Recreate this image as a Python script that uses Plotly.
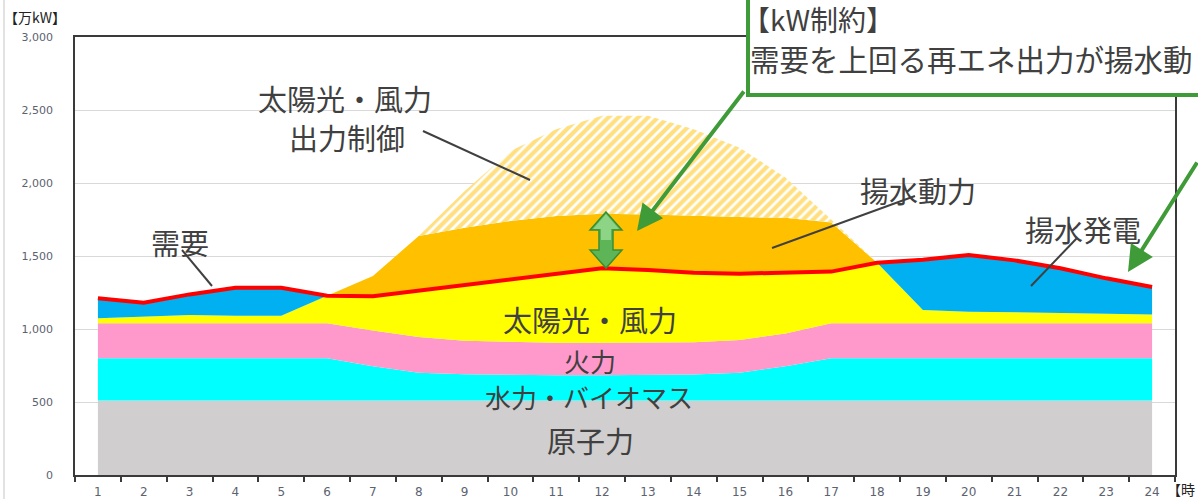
import plotly.graph_objects as go

# ---------------- data (万kW) ----------------
hours = list(range(1, 25))
hour_labels = [str(h) for h in hours]

nuclear = [510, 510, 510, 510, 510, 510, 510, 510, 510, 510, 510, 510,
           510, 510, 510, 510, 510, 510, 510, 510, 510, 510, 510, 510]
hydro_bio = [290, 290, 290, 290, 290, 290, 235, 190, 180, 175, 173, 173,
             175, 178, 190, 235, 290, 290, 290, 290, 290, 290, 290, 290]
thermal = [240, 240, 240, 240, 240, 240, 245, 245, 230, 225, 222, 222,
           220, 222, 225, 225, 240, 240, 240, 240, 240, 240, 240, 240]
solar_wind = [33, 44, 56, 51, 51, 188, 234, 318, 379, 430, 476, 511,
              499, 476, 454, 416, 353, 414, 90, 79, 74, 70, 65, 60]
pumped_gen = [137, 96, 141, 192, 192, 0, 0, 0, 0, 0, 0, 0,
              0, 0, 0, 0, 0, 0, 345, 388, 356, 306, 242, 188]
pumping = [0, 0, 0, 0, 0, 0, 139, 374, 395, 400, 393, 374,
           381, 388, 388, 376, 337, 0, 0, 0, 0, 0, 0, 0]
curtailment = [0, 0, 0, 0, 0, 0, 0, 0, 250, 480, 595, 670,
               675, 595, 475, 275, 20, 0, 0, 0, 0, 0, 0, 0]
demand = [1210, 1180, 1237, 1283, 1283, 1228, 1224, 1263, 1299, 1340, 1381, 1416,
          1404, 1386, 1379, 1386, 1393, 1454, 1475, 1507, 1470, 1416, 1347, 1288]

# ---------------- figure ----------------
W, H = 1198, 499
L, R, T, B = 75, 23, 37, 24
PW, PH = W - L - R, H - T - B


def px(x):
    return (x - L) / PW


def py(y):
    return (H - B - y) / PH


JP = "Noto Sans CJK JP"
TXT = "#404040"
GREEN = "#3E9B37"

fig = go.Figure()

layers = [
    ("原子力", nuclear, "#D0CECE"),
    ("水力・バイオマス", hydro_bio, "#00FFFF"),
    ("火力", thermal, "#FF99CC"),
    ("太陽光・風力", solar_wind, "#FFFF00"),
    ("揚水発電", pumped_gen, "#00B0F0"),
    ("揚水動力", pumping, "#FFC000"),
]
for name, vals, col in layers:
    fig.add_trace(go.Scatter(
        x=hours, y=vals, name=name, stackgroup="s", mode="lines",
        line=dict(width=0, color=col), fillcolor=col, hoverinfo="skip"))

fig.add_trace(go.Scatter(
    x=hours, y=curtailment, name="出力制御", stackgroup="s", mode="lines",
    line=dict(width=0, color="#FFC000"), fillcolor="white",
    fillpattern=dict(shape="/", fgcolor="#FFC000", bgcolor="white",
                     size=7, solidity=0.6),
    hoverinfo="skip"))

fig.add_trace(go.Scatter(
    x=hours, y=demand, name="需要", mode="lines",
    line=dict(color="#FF0000", width=4), hoverinfo="skip"))

axis_line = "#3a3a3a"
fig.update_layout(
    width=W, height=H,
    margin=dict(l=L, r=R, t=T, b=B),
    paper_bgcolor="white", plot_bgcolor="white",
    showlegend=False,
    xaxis=dict(
        range=[0.5, 24.5], tickmode="array", tickvals=hours, ticktext=hour_labels,
        ticks="", showgrid=False, zeroline=False, automargin=False,
        showline=True, mirror=True, linecolor=axis_line, linewidth=1.5,
        tickfont=dict(family="DejaVu Sans", size=12, color="#5c6270"),
        ticklabelstandoff=5,
        minor=dict(tick0=0.5, dtick=1, ticks="outside", ticklen=5,
                   tickcolor=axis_line, tickwidth=1.5, showgrid=False),
    ),
    yaxis=dict(
        range=[0, 3000], dtick=500, tickformat=",", ticks="",
        showgrid=True, gridcolor="#D9D9D9", gridwidth=1, zeroline=False,
        automargin=False,
        showline=True, mirror=True, linecolor=axis_line, linewidth=1.5,
        tickfont=dict(family="DejaVu Sans", size=11, color="#5c6270"),
        ticklabelstandoff=18,
    ),
)

shapes = []
annotations = []

# faint outer border on the left
shapes.append(dict(type="line", xref="paper", yref="paper",
                   x0=px(4), x1=px(4), y0=py(0), y1=py(499),
                   line=dict(color="#D9D9D9", width=1.5)))

# leader lines
for (x0, y0, x1, y1) in [(423, 131, 530, 180), (772, 248, 915, 196),
                         (1031, 286, 1077, 238), (182, 250, 212, 286)]:
    shapes.append(dict(type="line", xref="paper", yref="paper",
                       x0=px(x0), y0=py(y0), x1=px(x1), y1=py(y1),
                       line=dict(color=TXT, width=2)))

# green double arrow (two tones to hint at the gradient)
pts = [(606, 212), (622, 230), (613, 230), (613, 250), (622, 250), (606, 268),
       (590, 250), (599, 250), (599, 230), (590, 230)]
path = "M " + " L ".join(f"{px(a):.5f},{py(b):.5f}" for a, b in pts) + " Z"
shapes.append(dict(type="path", xref="paper", yref="paper", path=path,
                   fillcolor="#5DB557", line=dict(color="#3A8F34", width=1.5)))
pts_top = [(606, 214), (619, 229), (611, 229), (611, 240), (601, 240), (601, 229),
           (593, 229)]
path_top = "M " + " L ".join(f"{px(a):.5f},{py(b):.5f}" for a, b in pts_top) + " Z"
shapes.append(dict(type="path", xref="paper", yref="paper", path=path_top,
                   fillcolor="#8DD487", line=dict(width=0)))

# callout box
shapes.append(dict(type="rect", xref="paper", yref="paper",
                   x0=px(748), x1=px(1230), y0=py(-20), y1=py(95),
                   fillcolor="white", line=dict(color=GREEN, width=4)))

fig.update_layout(shapes=shapes)

# text labels
labels = [
    ("太陽光・風力", 345, 98, 29),
    ("出力制御", 347, 137, 29),
    ("揚水動力", 918, 190, 29),
    ("揚水発電", 1083, 229, 29),
    ("需要", 180, 242, 29),
    ("太陽光・風力", 590, 319, 29),
    ("火力", 590, 360, 26),
    ("水力・バイオマス", 589, 396, 26),
    ("原子力", 590, 440, 29),
]
for t, x, y, s in labels:
    annotations.append(dict(text=t, xref="paper", yref="paper", x=px(x), y=py(y),
                            xanchor="center", yanchor="middle", showarrow=False,
                            font=dict(family=JP, size=s, color=TXT)))

annotations.append(dict(text="【kW制約】", xref="paper", yref="paper",
                        x=px(740), y=py(19), xanchor="left", yanchor="middle",
                        showarrow=False, font=dict(family=JP, size=28, color=TXT)))
annotations.append(dict(text="需要を上回る再エネ出力が揚水動", xref="paper", yref="paper",
                        x=px(748), y=py(58), xanchor="left", yanchor="middle",
                        showarrow=False, font=dict(family=JP, size=29.5, color=TXT)))

# green arrows
annotations.append(dict(text="", xref="paper", yref="paper", x=px(637), y=py(231),
                        ax=108, ay=-141, showarrow=True, arrowhead=2, arrowsize=1.3,
                        arrowwidth=4, arrowcolor=GREEN))
annotations.append(dict(text="", xref="paper", yref="paper", x=px(1128), y=py(272),
                        ax=132, ay=-111, showarrow=True, arrowhead=2, arrowsize=1.3,
                        arrowwidth=4, arrowcolor=GREEN))

# unit labels
annotations.append(dict(text="【万kW】", xref="paper", yref="paper", x=px(2), y=py(17),
                        xanchor="left", yanchor="middle", showarrow=False,
                        font=dict(family=JP, size=14, color="#222222")))
annotations.append(dict(text="【時", xref="paper", yref="paper", x=px(1165), y=py(489),
                        xanchor="left", yanchor="middle", showarrow=False,
                        font=dict(family=JP, size=14, color="#222222")))

fig.update_layout(annotations=annotations)

fig.write_html("out.html", config={"displayModeBar": False},
               post_script="document.body.style.margin='0';document.body.style.overflow='hidden';")
